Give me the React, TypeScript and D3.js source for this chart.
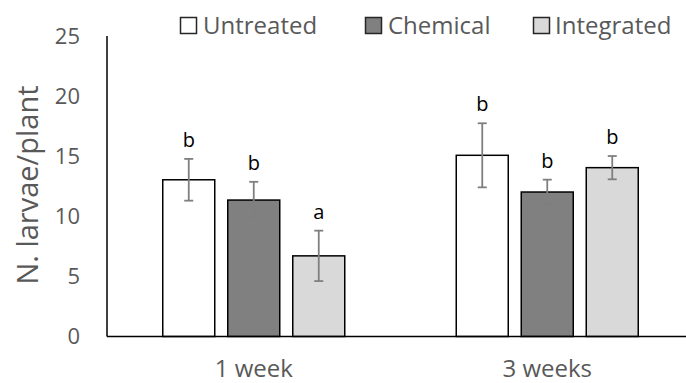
import React from "react";
import * as d3 from "d3";

const categories = ["1 week", "3 weeks"];
const seriesNames = ["Untreated", "Chemical", "Integrated"];
const untreated = [13.06, 15.1];
const chemical = [11.37, 12.04];
const integrated = [6.72, 14.07];
const untreatedErr = [1.74, 2.67];
const chemicalErr = [1.52, 1.03];
const integratedErr = [2.1, 0.97];
const untreatedLetters = ["b", "b"];
const chemicalLetters = ["b", "b"];
const integratedLetters = ["a", "b"];
const yTicks = [0, 5, 10, 15, 20, 25];

const seriesValues = [untreated, chemical, integrated];
const seriesErrs = [untreatedErr, chemicalErr, integratedErr];
const seriesLetters = [untreatedLetters, chemicalLetters, integratedLetters];
const fills = ["#ffffff", "#808080", "#d9d9d9"];

const W = 686;
const H = 383;
const FONT = "'Open Sans', sans-serif";
const TEXT = "#595959";

export default function App() {
  const y = d3.scaleLinear().domain([0, 25]).range([336.5, 36.5]);
  const x0 = d3.scaleBand<string>().domain(categories).range([107, 694]).paddingInner(0).paddingOuter(0);
  const groupW = 182;
  const x1 = d3.scaleBand<string>().domain(seriesNames).range([0, groupW]).paddingInner(0.2).paddingOuter(0);
  const legendX = [180.5, 365.5, 533.5];
  const legendTextX = [203, 388, 555];

  return (
    <svg width={W} height={H} style={{ position: "absolute", left: 0, top: 0, background: "#fff" }}>
      <rect x={0} y={0} width={W} height={H} fill="#fff" />
      {/* y tick labels */}
      {yTicks.map((t) => (
        <text key={t} x={80} y={y(t)} dy="0.36em" textAnchor="end" fontFamily={FONT} fontSize={22} fill={TEXT}>
          {t}
        </text>
      ))}
      {/* y axis label */}
      <text
        transform={`translate(38,185) rotate(-90)`}
        textAnchor="middle"
        fontFamily={FONT}
        fontSize={29}
        fill={TEXT}
      >
        N. larvae/plant
      </text>
      {/* bars */}
      {categories.map((c, ci) => {
        const gx = (x0(c) as number) + x0.bandwidth() / 2 - groupW / 2;
        return (
          <g key={c} transform={`translate(${gx},0)`}>
            {seriesNames.map((s, si) => {
              const v = seriesValues[si][ci];
              const e = seriesErrs[si][ci];
              const bx = x1(s) as number;
              const bw = x1.bandwidth();
              const cx = bx + bw / 2;
              return (
                <g key={s}>
                  <rect x={bx} y={y(v)} width={bw} height={y(0) - y(v)} fill={fills[si]} stroke="#000" strokeWidth={1.5} />
                  <line x1={cx} x2={cx} y1={y(v + e)} y2={y(v - e)} stroke="#7f7f7f" strokeWidth={1.8} />
                  <line x1={cx - 4.5} x2={cx + 4.5} y1={y(v + e)} y2={y(v + e)} stroke="#7f7f7f" strokeWidth={1.8} />
                  <line x1={cx - 4.5} x2={cx + 4.5} y1={y(v - e)} y2={y(v - e)} stroke="#7f7f7f" strokeWidth={1.8} />
                  <text x={cx} y={y(v + e) - 12} textAnchor="middle" fontFamily={FONT} fontSize={20} fill="#000">
                    {seriesLetters[si][ci]}
                  </text>
                </g>
              );
            })}
          </g>
        );
      })}
      {/* axes */}
      <line x1={107} x2={107} y1={36} y2={y(0)} stroke="#000" strokeWidth={1.5} />
      <line x1={107} x2={W} y1={y(0)} y2={y(0)} stroke="#000" strokeWidth={1.5} />
      {/* category labels */}
      {categories.map((c) => (
        <text
          key={c}
          x={(x0(c) as number) + x0.bandwidth() / 2}
          y={377}
          textAnchor="middle"
          fontFamily={FONT}
          fontSize={24}
          fill={TEXT}
        >
          {c}
        </text>
      ))}
      {/* legend */}
      {seriesNames.map((s, si) => (
        <g key={s}>
          <rect x={legendX[si]} y={17.5} width={16} height={16} fill={fills[si]} stroke="#262626" strokeWidth={1.5} />
          <text x={legendTextX[si]} y={33.5} fontFamily={FONT} fontSize={24} fill={TEXT}>
            {s}
          </text>
        </g>
      ))}
    </svg>
  );
}
